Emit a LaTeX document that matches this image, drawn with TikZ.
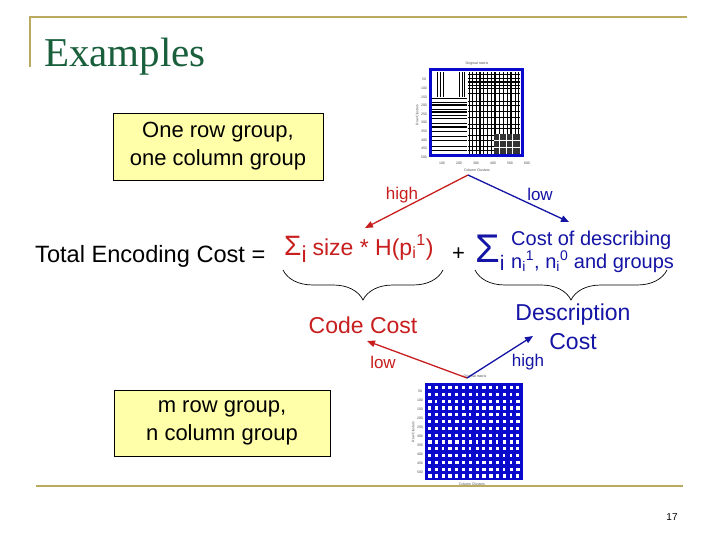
\documentclass[tikz,border=0pt]{standalone}
\usepackage{fontspec}
\setmainfont{Liberation Sans}
\newfontfamily\titlefont{Liberation Serif}
\definecolor{codered}{RGB}{200,30,30}
\definecolor{descblue}{RGB}{20,20,165}
\definecolor{matblue}{RGB}{10,10,205}
\definecolor{rulegold}{RGB}{185,170,95}
\definecolor{titlegreen}{RGB}{25,95,60}
\definecolor{boxyellow}{RGB}{255,255,170}
\usepackage{tikz}
\usetikzlibrary{arrows.meta,decorations.pathreplacing}
\newcommand{\fsz}[2]{\fontsize{#1}{#2}\selectfont}

\begin{document}
\begin{tikzpicture}[x=1pt,y=-1pt,
		groupbox/.style={draw=black,fill=boxyellow,line width=0.8pt,align=center,inner sep=0pt,font=\fsz{22}{28}},
		costarrow/.style={-{Triangle[length=8pt,width=6.5pt]},line width=1.3pt},
		curly/.style={decorate,decoration={brace,mirror,amplitude=30pt},line width=0.7pt},
		axislbl/.style={font=\fsz{3.5}{4},text=black!70,inner sep=0pt},
		lbl/.style={font=\fsz{17}{20},inner sep=0pt}]
					\useasboundingbox (0,0) rectangle (720,540);
					\fill[white] (0,0) rectangle (720,540);
					
					\draw[rulegold,line width=2pt] (30,67) -- (30,17) -- (687,17);
					\node[anchor=base west,text=titlegreen,font=\titlefont\fsz{41}{44},inner sep=0pt] (title) at (44,67) {Examples};
					
					% one row group, one column group
					\node[axislbl] (toptitle) at (477,64) {Original matrix};
					\foreach \y/\w in {99/1,102/.5,105/1.2,109/.8,112/1.4,115/.6,119/1,123/.5,127/1.2,131/.8,136/.5,141/1,146/.6,150/.9}
						\draw[line width=\w pt] (432,\y) -- (467,\y);
					\foreach \x in {437,440,443,459,462,464}
						\draw[line width=.4pt] (\x,72) -- (\x,97);
					\foreach \x/\w in {469/.8,472/1,476/.6,480/1.2,483/.5,487/1,491/.7,495/1.2,499/.6,503/1,507/.8,511/1.1,515/.6,518/1}
						\draw[line width=\w pt] (\x,72) -- (\x,154);
					\foreach \y/\w in {75/1,78/.6,82/1.2,85/.7,89/1,93/.8,101/.6,106/1,111/.7,118/1,124/.6,129/1,135/.8,141/1,146/.7,151/1}
						\draw[line width=\w pt] (468,\y) -- (520,\y);
					\fill[black!80] (494,134) rectangle (520,154);
					\foreach \x in {499,506,512}
						\draw[white,line width=.5pt] (\x,134) -- (\x,154);
					\foreach \y in {140,147}
						\draw[white,line width=.5pt] (494,\y) -- (520,\y);
					\draw[matblue,line width=3pt] (430,70) rectangle (522,156);
					\foreach \v [count=\k] in {100,200,...,600}
						\node[axislbl] (topx\k) at (425+\k*17,163) {\v};
					\foreach \v [count=\k] in {50,100,...,500}
						\node[axislbl] (topy\k) at (424,71+\k*8.6) {\v};
					\node[axislbl] (topcol) at (477,170) {Column Clusters};
					\node[axislbl,rotate=90] (toprow) at (417,115) {Row Clusters};
					
					\node[groupbox,minimum width=210,minimum height=67] (onebox) at (218,146.5) {One row group,\\one column group};
					
					% m row groups, n column groups
					\node[axislbl] (bottitle) at (475,377) {Original matrix};
					\fill[matblue] (425,383) rectangle (523,480);
					\pgfmathsetseed{3}
					\foreach \i in {0,...,13}
						\foreach \j in {0,...,13}{
							\pgfmathsetmacro{\w}{2.4+1.2*rnd}
							\fill[white] (428+6.8*\i,386+6.8*\j) rectangle ++(\w,3.2);
						}
					\foreach \v [count=\k] in {50,100,...,500}
						\node[axislbl] (boty\k) at (420,382+\k*9) {\v};
					\node[axislbl] (botcol) at (472,484) {Column Clusters};
					\node[axislbl,rotate=90] (botrow) at (413,432) {Row Clusters};
					
					\node[groupbox,minimum width=216,minimum height=66] (mnbox) at (222,423) {m row group,\\n column group};
					
					% total encoding cost
					\node[anchor=base west,font=\fsz{23.6}{26},inner sep=0pt] (total) at (35,262) {Total Encoding Cost =};
					\node[anchor=base west,text=codered,font=\fsz{23}{26},inner sep=0pt] (codesum) at (284,255) {{\fsz{28}{30}Σ}\raisebox{-7pt}{i}\hspace{6pt}size * H(p\textsubscript{i}\textsuperscript{1})};
					\node[anchor=base west,font=\fsz{22}{26},inner sep=0pt] (plus) at (452,260) {+};
					\node[anchor=base west,text=descblue,inner sep=0pt] (descsum) at (475,262) {{\fsz{40}{44}Σ}\raisebox{-8pt}{\fsz{21}{24}i}};
					\node[anchor=base west,text=descblue,font=\fsz{20}{23},inner sep=0pt] (descline1) at (511,245) {Cost of describing};
					\node[anchor=base west,text=descblue,font=\fsz{20}{23},inner sep=0pt] (descline2) at (511,268) {n\textsubscript{i}\textsuperscript{1}, n\textsubscript{i}\textsuperscript{0} and groups};
					
					\draw[curly] (283,270) -- (443,270);
					\draw[curly] (475,270) -- (667,270);
					
					\node[text=codered,font=\fsz{23}{26}] (codecost) at (363,325) {Code Cost};
					\node[text=descblue,font=\fsz{23}{29},align=center] (desccost) at (573,327) {Description\\Cost};
					
					% arrows from the two matrices
					\coordinate (topsrc) at (468,175);
					\coordinate (codetip) at (365,228);
					\coordinate (desctip) at (569,222);
					\draw[costarrow,codered] (topsrc) -- (codetip);
					\draw[costarrow,descblue] (topsrc) -- (desctip);
					\node[lbl,text=codered] (hightop) at (402,195) {high};
					\node[lbl,text=descblue] (lowtop) at (540,194) {low};
					
					\coordinate (botsrc) at (467,378);
					\coordinate (codeback) at (367,341);
					\coordinate (descback) at (533,336);
					\draw[costarrow,codered] (botsrc) -- (codeback);
					\draw[costarrow,descblue] (botsrc) -- (descback);
					\node[lbl,text=codered] (lowbot) at (383,362) {low};
					\node[lbl,text=descblue] (highbot) at (528,362) {high};
					
					\draw[rulegold,line width=2pt] (36,486) -- (683,486);
					\node[font=\fsz{10}{10}] (pagenum) at (672,517) {17};
				\end{tikzpicture}
\end{document}
